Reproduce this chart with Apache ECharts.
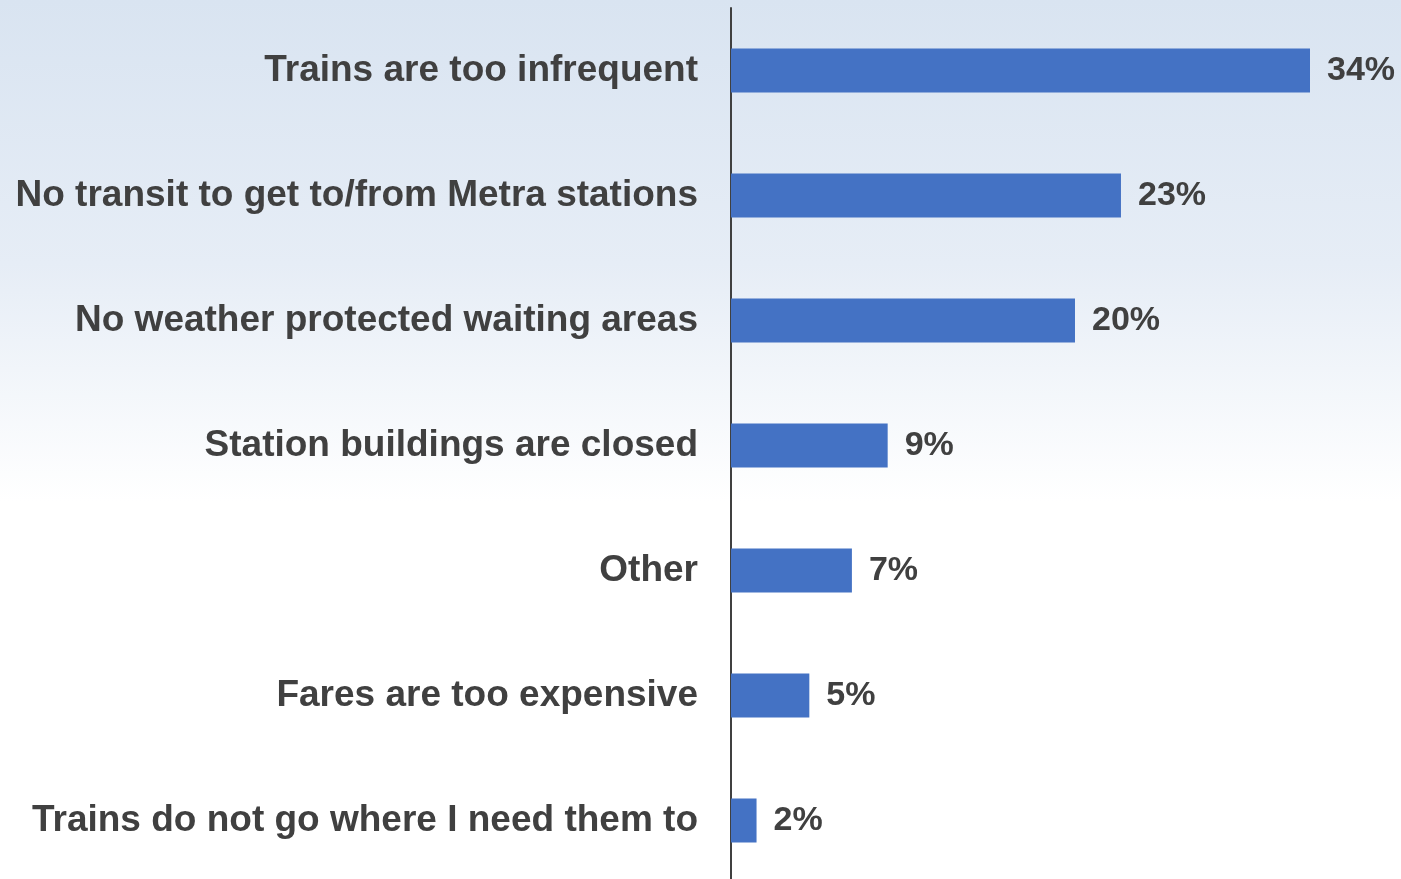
<!DOCTYPE html>
<html><head><meta charset="utf-8">
<script src="https://cdn.jsdelivr.net/npm/echarts@6/dist/echarts.min.js"></script>
<style>html,body{margin:0;padding:0;background:#fff}#c{width:1401px;height:879px}</style>
</head><body><div id="c"></div>
<script>
const categories = [
  "Trains are too infrequent",
  "No transit to get to/from Metra stations",
  "No weather protected waiting areas",
  "Station buildings are closed",
  "Other",
  "Fares are too expensive",
  "Trains do not go where I need them to"
];
const values = [34, 22.9, 20.2, 9.2, 7.1, 4.6, 1.5];
const labels = ["34%", "23%", "20%", "9%", "7%", "5%", "2%"];

const FONT = "'Liberation Sans', Arial, sans-serif";
const chart = echarts.init(document.getElementById('c'));
chart.setOption({
  animation: false,
  backgroundColor: {
    type: 'linear', x: 0, y: 0, x2: 0, y2: 1,
    colorStops: [
      {offset: 0, color: '#d9e4f1'},
      {offset: 0.3, color: '#e6edf6'},
      {offset: 0.57, color: '#ffffff'},
      {offset: 1, color: '#ffffff'}
    ]
  },
  grid: {left: 731, right: 91, top: 8, height: 875, containLabel: false, outerBoundsMode: 'none'},
  xAxis: {
    type: 'value', min: 0, max: 34,
    show: false
  },
  yAxis: {
    type: 'category', inverse: true, data: categories,
    axisLine: {show: true, lineStyle: {color: '#404040', width: 2}},
    axisTick: {show: false},
    axisLabel: {
      color: '#404040', fontFamily: FONT,
      fontWeight: 'bold', fontSize: 37, margin: 33
    }
  },
  series: [{
    type: 'bar', data: values, barWidth: 44,
    itemStyle: {color: '#4472c4'},
    label: {
      show: true, position: 'right', distance: 17,
      color: '#404040', fontFamily: FONT,
      fontWeight: 'bold', fontSize: 34,
      formatter: p => labels[p.dataIndex]
    }
  }]
});
</script></body></html>
